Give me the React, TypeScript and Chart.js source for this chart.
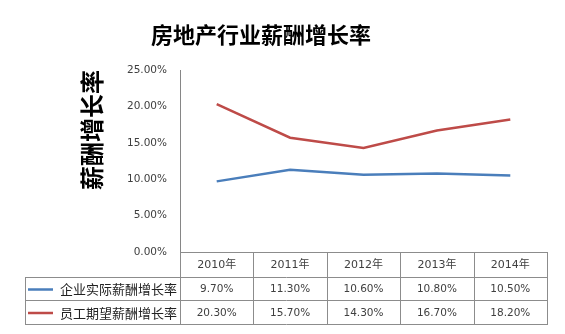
import React, { useEffect, useRef } from "react";
import { Chart, registerables } from "chart.js";

Chart.register(...registerables);

const chartTitle = "房地产行业薪酬增长率";
const yAxisTitle = "薪酬增长率";
const categories = ["2010年", "2011年", "2012年", "2013年", "2014年"];
const seriesNames = ["企业实际薪酬增长率", "员工期望薪酬增长率"];
const actualRates = [9.7, 11.3, 10.6, 10.8, 10.5];
const expectedRates = [20.3, 15.7, 14.3, 16.7, 18.2];
const seriesColors = ["#4a7ebb", "#be4b48"];
const yMin = 0;
const yMax = 25;
const yStep = 5;

const fmt = (v: number) => v.toFixed(2) + "%";

const NUM_FONT = '"DejaVu Sans", "Noto Sans CJK SC", sans-serif';
const CJK_FONT = '"Noto Sans CJK SC", sans-serif';

const tablePlugin = {
  id: "dataTable",
  afterDraw(chart: any) {
    const ctx: CanvasRenderingContext2D = chart.ctx;
    const { left, right, bottom } = chart.chartArea;
    const xs = chart.scales.x;
    const n = categories.length;
    const w = (right - left) / n;
    const rows = [bottom, bottom + 25, bottom + 48, bottom + 72];
    const labelLeft = 25;
    const allSeries = [actualRates, expectedRates];

    ctx.save();
    // chart title
    ctx.fillStyle = "#000";
    ctx.font = 'bold 22px ' + CJK_FONT;
    ctx.textAlign = "center";
    ctx.textBaseline = "middle";
    ctx.fillText(chartTitle, 261, 35);

    ctx.strokeStyle = "#8c8c8c";
    ctx.lineWidth = 1;
    const px = (v: number) => Math.round(v) + 0.5;
    const hl = (y: number, x1: number, x2: number) => {
      ctx.beginPath();
      ctx.moveTo(x1, px(y));
      ctx.lineTo(x2, px(y));
      ctx.stroke();
    };
    const vl = (x: number, y1: number, y2: number) => {
      ctx.beginPath();
      ctx.moveTo(px(x), y1);
      ctx.lineTo(px(x), y2);
      ctx.stroke();
    };
    hl(rows[0], left, right + 1);
    hl(rows[1], labelLeft, right + 1);
    hl(rows[2], labelLeft, right + 1);
    hl(rows[3], labelLeft, right + 1);
    for (let i = 0; i <= n; i++) {
      vl(left + i * w, px(rows[0]), px(rows[3]));
    }
    vl(labelLeft, px(rows[1]), px(rows[3]));

    // header
    ctx.fillStyle = "#404040";
    ctx.font = "11px " + NUM_FONT;
    ctx.textAlign = "center";
    ctx.textBaseline = "middle";
    categories.forEach((c, i) => {
      ctx.fillText(c, xs.getPixelForValue(i), (rows[0] + rows[1]) / 2 + 1);
    });

    // series rows
    allSeries.forEach((vals, r) => {
      const yc = (rows[r + 1] + rows[r + 2]) / 2 + 1;
      ctx.strokeStyle = seriesColors[r];
      ctx.lineWidth = 2.5;
      ctx.beginPath();
      ctx.moveTo(28, yc);
      ctx.lineTo(53, yc);
      ctx.stroke();
      ctx.fillStyle = "#222";
      ctx.font = "13px " + CJK_FONT;
      ctx.textAlign = "left";
      ctx.fillText(seriesNames[r], 60, yc);
      ctx.fillStyle = "#404040";
      ctx.font = "10.5px " + NUM_FONT;
      ctx.textAlign = "center";
      vals.forEach((v, i) => {
        ctx.fillText(fmt(v), xs.getPixelForValue(i), yc);
      });
    });
    ctx.restore();
  },
};

export default function App() {
  const ref = useRef<HTMLCanvasElement | null>(null);

  useEffect(() => {
    if (!ref.current) return;
    const chart = new Chart(ref.current, {
      type: "line",
      data: {
        labels: categories,
        datasets: [
          {
            label: seriesNames[0],
            data: actualRates,
            borderColor: seriesColors[0],
            backgroundColor: seriesColors[0],
            borderWidth: 2.5,
            pointRadius: 0,
            tension: 0,
          },
          {
            label: seriesNames[1],
            data: expectedRates,
            borderColor: seriesColors[1],
            backgroundColor: seriesColors[1],
            borderWidth: 2.5,
            pointRadius: 0,
            tension: 0,
          },
        ],
      },
      options: {
        animation: false,
        responsive: true,
        maintainAspectRatio: false,
        layout: { padding: { top: 70, right: 18, bottom: 82, left: 0 } },
        plugins: {
          legend: { display: false },
          title: { display: false },
          tooltip: { enabled: false },
        },
        scales: {
          x: {
            type: "category",
            offset: true,
            display: false,
          },
          y: {
            min: yMin,
            max: yMax,
            grid: { display: false, drawTicks: false },
            border: { display: true, color: "#868686", width: 1 },
            ticks: {
              stepSize: yStep,
              padding: 13,
              color: "#404040",
              font: { family: NUM_FONT, size: 10.5 },
              callback: (v: any) => fmt(Number(v)),
            },
            title: {
              display: true,
              text: yAxisTitle,
              align: "end",
              color: "#000",
              font: { family: CJK_FONT, size: 24, weight: "bold" },
              padding: { top: 77, bottom: 0 },
            },
            afterFit: (scale: any) => {
              scale.width = 180;
            },
          },
        },
      },
      plugins: [tablePlugin],
    } as any);
    return () => chart.destroy();
  }, []);

  return (
    <div style={{ position: "fixed", left: 0, top: 0, width: 565, height: 334, background: "#fff" }}>
      <canvas ref={ref} />
    </div>
  );
}
